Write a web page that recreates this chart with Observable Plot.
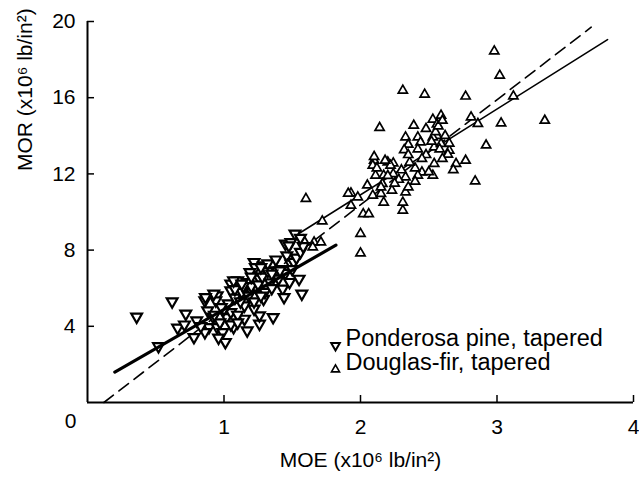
<!DOCTYPE html>
<html><head><meta charset="utf-8">
<script src="https://cdn.jsdelivr.net/npm/d3@7"></script>
<script src="https://cdn.jsdelivr.net/npm/@observablehq/plot@0.6"></script>
<style>body{margin:0;background:#fff}</style>
</head><body><div id="chart"></div>
<script>
// Ponderosa pine, tapered (MOE, MOR)
const ppMOE = [0.36,0.62,0.72,0.66,0.71,0.78,0.52,0.86,0.95,0.94,0.88,0.89,0.86,0.95,0.99,1.01,1.02,1.05,1.07,1.17,1.15,1.26,1.36,1.26,
 1.05,1.10,1.05,1.15,1.22,1.23,1.29,1.19,1.26,1.17,1.24,1.29,1.15,1.22,1.37,1.39,1.43,1.44,1.48,1.55,1.57,1.46,1.49,1.51,1.45,1.49,1.52,
 0.80,0.83,0.92,0.97,1.00,1.03,0.98,1.08,1.12,1.10,1.13,1.18,1.20,1.25,1.28,1.32,1.34,1.30,1.35,1.40,1.42,1.45,1.50,1.53,1.56,1.58,1.20,1.14,1.08,0.93,0.96,1.05,1.10,1.22,1.27,1.32,1.38,
 1.475,1.56,1.41,1.35,1.27,1.07,1.13,0.925,0.864];
const ppMOR = [4.50,5.30,4.66,3.92,4.09,3.43,2.95,5.35,5.62,5.35,4.83,3.95,3.69,3.95,3.69,3.17,4.48,4.74,3.95,3.78,4.39,4.13,4.48,4.57,
 6.23,6.40,5.88,5.97,7.37,7.10,7.19,6.84,6.49,6.32,5.97,5.44,5.09,4.92,6.67,6.93,5.97,5.53,6.32,6.49,5.71,7.72,7.28,7.37,8.33,8.41,8.86,
 4.30,4.00,4.50,4.20,4.90,5.20,5.00,5.50,5.30,4.60,5.80,5.60,6.10,6.20,6.60,6.90,6.30,5.80,6.00,6.50,7.00,6.80,7.00,7.60,7.90,8.20,6.60,6.10,5.95,4.60,3.40,4.10,4.20,5.30,5.60,7.30,7.50,
 8.24,8.64,6.93,6.76,7.10,6.40,6.23,5.71,5.53];
// Douglas-fir, tapered (MOE, MOR)
const dfMOE = [2.98,3.02,2.31,2.47,2.77,3.12,3.35,3.03,2.92,2.86,2.81,2.14,2.39,2.59,2.53,2.48,2.56,2.56,2.33,2.42,2.44,2.35,2.32,2.53,2.54,2.59,2.65,2.64,2.77,2.70,2.68,2.54,2.84,
 2.10,2.09,2.20,2.24,2.22,2.11,2.17,2.24,2.33,2.45,2.42,2.53,2.16,2.23,2.33,1.93,1.98,2.09,2.15,1.60,1.91,1.93,2.02,2.06,2.17,2.31,2.31,2.00,2.00,1.72,1.66,1.71,1.65,1.585,
 2.55,2.57,2.60,2.52,2.58,2.62,2.48,2.45,2.40,2.36,2.30,2.28,2.25,2.20,2.15,2.12,2.05,2.35,2.40,2.50,2.60,2.65,2.42,2.35,2.10,2.18];
const dfMOR = [18.44,17.17,16.38,16.17,16.07,16.08,14.80,14.66,13.50,14.63,14.98,14.42,14.54,15.07,14.86,14.37,14.00,14.60,13.93,13.93,13.66,13.54,13.26,13.93,13.40,13.58,13.23,13.02,12.70,12.53,12.21,12.53,11.62,
 12.70,12.44,12.61,12.56,12.44,11.92,11.92,12.00,11.83,12.09,11.92,11.92,11.48,11.13,11.04,10.99,10.78,10.87,10.96,10.70,10.97,10.34,9.90,9.90,10.50,10.08,10.50,8.86,7.84,9.52,8.41,8.41,8.15,8.50,
 14.20,14.50,14.80,13.70,13.30,14.00,13.00,12.80,12.30,12.60,12.20,11.70,11.50,11.90,11.30,12.30,11.40,11.30,11.60,12.10,12.80,13.60,13.30,13.00,12.90,12.70];
// fitted lines (MOE, MOR end points)
const ppFitMOE = [0.20, 1.82], ppFitMOR = [1.60, 8.26];
const dfFitMOE = [1.52, 3.81], dfFitMOR = [8.74, 19.05];
const allFitMOE = [0.12, 3.69], allFitMOR = [0.0, 19.70];
const xTicks = [1,2,3,4], yTicks = [4,8,12,16,20];
const legendLabels = ["Ponderosa pine, tapered", "Douglas-fir, tapered"];

const pp = ppMOE.map((x,i)=>({x, y: ppMOR[i]}));
const df = dfMOE.map((x,i)=>({x, y: dfMOR[i]}));
const pts = (xs, ys) => xs.map((x,i)=>({x, y: ys[i]}));
const font = "Liberation Sans, Arial, Helvetica, sans-serif";

const chart = Plot.plot({
  width: 639, height: 485,
  marginLeft: 87, marginRight: 6, marginTop: 21, marginBottom: 83,
  style: {fontFamily: font, background: "#fff", color: "#000"},
  x: {domain: [0, 4]},
  y: {domain: [0, 20]},
  marks: [
    Plot.axisX({ticks: xTicks, tickSize: -7, tickPadding: 24, fontSize: 21, tickFormat: d => d, label: null, strokeWidth: 1.5}),
    Plot.axisY({ticks: yTicks, tickSize: -7, tickPadding: 19, fontSize: 21, tickFormat: d => d, label: null, strokeWidth: 1.5}),
    Plot.text(["0"], {x: 0, frameAnchor: "bottom", dx: -17, dy: 25, fontSize: 21}),
    Plot.text(["MOE (x10\u2076 lb/in\u00b2)"], {frameAnchor: "bottom", dy: 64, fontSize: 21}),
    Plot.text(["MOR (x10\u2076 lb/in\u00b2)"], {frameAnchor: "left", dx: -62, dy: -41, rotate: -90, fontSize: 21}),
    Plot.line(pts(allFitMOE, allFitMOR), {x: "x", y: "y", stroke: "#000", strokeWidth: 1.6, strokeDasharray: "12,7"}),
    Plot.line(pts(dfFitMOE, dfFitMOR), {x: "x", y: "y", stroke: "#000", strokeWidth: 1.6}),
    Plot.dot(df, {x: "x", y: "y", symbol: "triangle", r: 3.4, stroke: "#000", strokeWidth: 1.7, fill: "#fff"}),
    Plot.dot(pp, {x: "x", y: "y", symbol: "triangle", rotate: 180, r: 4.0, stroke: "#000", strokeWidth: 2.2, fill: "#fff"}),
    Plot.line(pts(ppFitMOE, ppFitMOR), {x: "x", y: "y", stroke: "#000", strokeWidth: 3.2}),
    Plot.ruleX([0], {stroke: "#000", strokeWidth: 2}),
    Plot.ruleY([0], {stroke: "#000", strokeWidth: 2}),
    Plot.dot([legendLabels[0]], {frameAnchor: "bottom-left", dx: 248, dy: -57, symbol: "triangle", rotate: 180, r: 3.2, stroke: "#000", strokeWidth: 2, fill: "#fff"}),
    Plot.dot([legendLabels[1]], {frameAnchor: "bottom-left", dx: 248, dy: -33, symbol: "triangle", r: 3.0, stroke: "#000", strokeWidth: 1.6, fill: "#fff"}),
    Plot.text([legendLabels[0]], {frameAnchor: "bottom-left", dx: 258, dy: -57, textAnchor: "start", fontSize: 23.5}),
    Plot.text([legendLabels[1]], {frameAnchor: "bottom-left", dx: 258, dy: -33, textAnchor: "start", fontSize: 23.5})
  ]
});
document.getElementById("chart").appendChild(chart);
</script>
</body></html>
